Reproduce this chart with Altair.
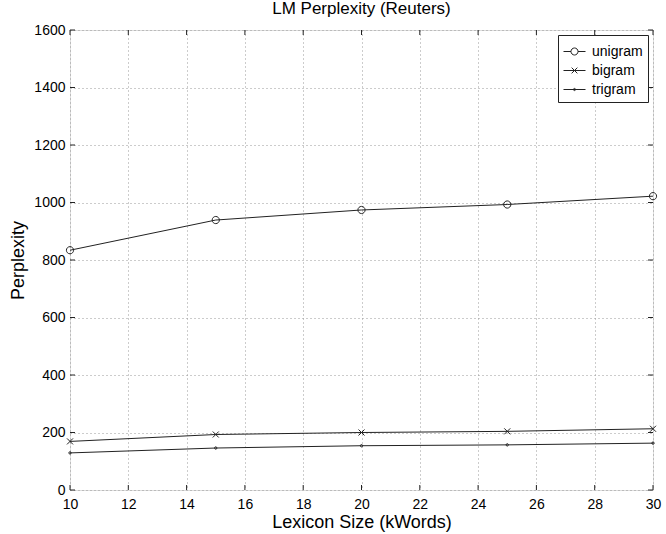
import altair as alt
import pandas as pd

lexicon = [10, 15, 20, 25, 30]
unigram = [834, 939, 974, 993, 1022]
bigram = [169, 193, 200, 204, 213]
trigram = [129, 146, 154, 157, 163]
series_names = ["unigram", "bigram", "trigram"]
x_ticks = [10, 12, 14, 16, 18, 20, 22, 24, 26, 28, 30]
y_ticks = [0, 200, 400, 600, 800, 1000, 1200, 1400, 1600]

rows = []
for name, vals in zip(series_names, [unigram, bigram, trigram]):
    for x, v in zip(lexicon, vals):
        rows.append({"x": x, "y": v, "series": name})
df = pd.DataFrame(rows)

W, H = 583, 460
FONT = "Liberation Sans"

marker_paths = [
    "M-0.9,0A0.9,0.9 0 1,1 0.9,0A0.9,0.9 0 1,1 -0.9,0Z",
    "M-0.75,-0.75L0.75,0.75M-0.75,0.75L0.75,-0.75",
    "M-0.3,0A0.3,0.3 0 1,1 0.3,0A0.3,0.3 0 1,1 -0.3,0Z",
]
legend_paths = [
    "M-1,0H-0.32M0.32,0H1M-0.32,0A0.32,0.32 0 1,1 0.32,0A0.32,0.32 0 1,1 -0.32,0Z",
    "M-1,0H1M-0.26,-0.26L0.26,0.26M-0.26,0.26L0.26,-0.26",
    "M-1,0H1M-0.1,0A0.1,0.1 0 1,1 0.1,0A0.1,0.1 0 1,1 -0.1,0Z",
]

xscale = alt.Scale(domain=[10, 30], nice=False, zero=False)
yscale = alt.Scale(domain=[0, 1600], nice=False)

xaxis = alt.Axis(values=x_ticks, title="Lexicon Size (kWords)", grid=True, format="d",
                 gridDash=[1, 3], gridColor="#999", ticks=False, domain=False,
                 labelFontSize=14, labelFont=FONT, labelColor="#000", labelPadding=7,
                 titleFont=FONT, titleFontSize=18, titleFontWeight="normal",
                 titleColor="#000", titlePadding=2, labelFlush=False)
yaxis = alt.Axis(values=y_ticks, title="Perplexity", grid=True, format="d",
                 gridDash=[1, 3], gridColor="#999", ticks=False, domain=False,
                 labelFontSize=14, labelFont=FONT, labelColor="#000", labelPadding=5,
                 titleFont=FONT, titleFontSize=18, titleFontWeight="normal",
                 titleColor="#000", titlePadding=6, labelFlush=False)

base = alt.Chart(df)

lines = base.mark_line(color="#222", strokeWidth=1).encode(
    x=alt.X("x:Q", scale=xscale, axis=xaxis),
    y=alt.Y("y:Q", scale=yscale, axis=yaxis),
    detail="series:N",
)

points = base.mark_point(filled=False, color="#222", strokeWidth=1, size=64, opacity=1).encode(
    x=alt.X("x:Q", scale=xscale),
    y=alt.Y("y:Q", scale=yscale),
    shape=alt.Shape("series:N", scale=alt.Scale(domain=series_names, range=marker_paths), legend=None),
)

legend_layer = base.transform_filter("datum.x < 0").mark_point(
    filled=False, color="#222", strokeWidth=1, opacity=1
).encode(
    x=alt.X("x:Q", scale=xscale),
    y=alt.Y("y:Q", scale=yscale),
    shape=alt.Shape(
        "series:N",
        scale=alt.Scale(domain=series_names, range=legend_paths),
        legend=alt.Legend(
            title=None, orient="top-right", offset=5, padding=5,
            strokeColor="#222", fillColor="white",
            symbolSize=484, symbolStrokeWidth=1, symbolStrokeColor="#222",
            symbolFillColor="transparent", symbolOpacity=1,
            labelFont=FONT, labelFontSize=14, labelColor="#000",
            labelOffset=6, rowPadding=0,
        ),
    ),
)

xt = pd.DataFrame({"t": x_ticks})
yt = pd.DataFrame({"t": y_ticks})
xtick_bottom = alt.Chart(xt).mark_rule(color="#222", strokeWidth=1).encode(
    x=alt.X("t:Q", scale=xscale), y=alt.value(H), y2=alt.value(H - 5))
xtick_top = alt.Chart(xt).mark_rule(color="#222", strokeWidth=1).encode(
    x=alt.X("t:Q", scale=xscale), y=alt.value(0), y2=alt.value(5))
ytick_left = alt.Chart(yt).mark_rule(color="#222", strokeWidth=1).encode(
    y=alt.Y("t:Q", scale=yscale), x=alt.value(0), x2=alt.value(5))
ytick_right = alt.Chart(yt).mark_rule(color="#222", strokeWidth=1).encode(
    y=alt.Y("t:Q", scale=yscale), x=alt.value(W), x2=alt.value(W - 5))

chart = alt.layer(
    xtick_bottom, xtick_top, ytick_left, ytick_right, lines, points, legend_layer
).resolve_scale(shape="independent").properties(
    width=W, height=H,
    title=alt.Title("LM Perplexity (Reuters)", font=FONT, fontSize=17,
                    fontWeight="normal", color="#000", offset=5),
    autosize=alt.AutoSizeParams(type="none"),
    padding={"left": 70, "top": 30, "right": 13, "bottom": 44},
).configure_view(stroke="#222", strokeWidth=1).configure(background="white")

chart.save("out.html", embed_options={"renderer": "svg", "actions": False})
